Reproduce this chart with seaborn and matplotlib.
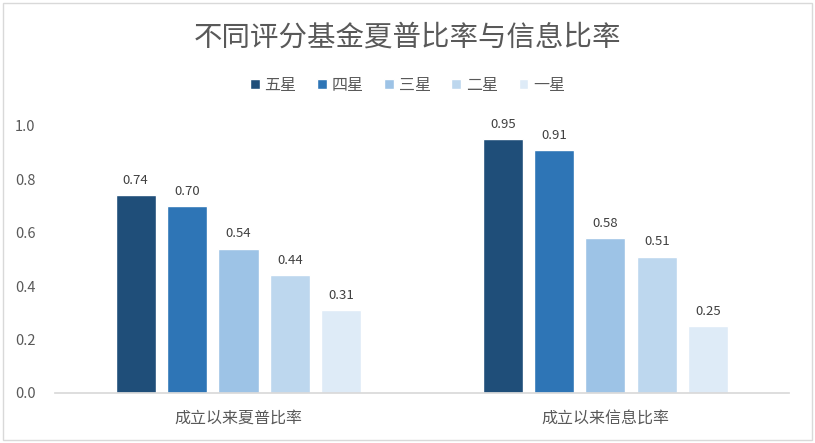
import matplotlib
matplotlib.use("Agg")
import matplotlib.pyplot as plt
from matplotlib.patches import Rectangle
import pandas as pd
import seaborn as sns

# data
categories = ["成立以来夏普比率", "成立以来信息比率"]
ratings = ["五星", "四星", "三星", "二星", "一星"]
sharpe = [0.74, 0.70, 0.54, 0.44, 0.31]
info = [0.95, 0.91, 0.58, 0.51, 0.25]
colors = ["#1F4E79", "#2E75B6", "#9DC3E6", "#BDD7EE", "#DEEBF7"]
yticks = [0.0, 0.2, 0.4, 0.6, 0.8, 1.0]

rows = []
for cat, vals in zip(categories, [sharpe, info]):
    for r, v in zip(ratings, vals):
        rows.append({"指标": cat, "评级": r, "值": v})
df = pd.DataFrame(rows)

sns.set_theme(style="white")
plt.rcParams["font.family"] = ["Noto Sans CJK SC", "DejaVu Sans"]

fig = plt.figure(figsize=(8.15, 4.43), dpi=100)
ax = fig.add_axes([0.0675, 0.113, 0.9005, 0.603])

sns.barplot(data=df, x="指标", y="值", hue="评级", hue_order=ratings,
            palette=colors, width=0.7, gap=0.22, saturation=1,
            order=categories, ax=ax, legend=True)

for cont in ax.containers:
    ax.bar_label(cont, fmt="%.2f", padding=6, fontsize=9.5, color="#404040",
                 clip_on=False)

ax.set_xlim(-0.5, 1.5)
ax.set_ylim(0, 1.0)
ax.set_yticks(yticks)
ax.set_yticklabels([f"{t:.1f}" for t in yticks])
ax.set_xlabel("")
ax.set_ylabel("")
ax.tick_params(axis="y", length=0, labelsize=10.5, colors="#595959", pad=14)
ax.tick_params(axis="x", length=0, labelsize=11.5, colors="#595959", pad=12)
for s in ["left", "right", "top"]:
    ax.spines[s].set_visible(False)
ax.spines["bottom"].set_color("#D9D9D9")
ax.grid(False)

handles, labels = ax.get_legend_handles_labels()
ax.legend_.remove()
fig.legend(handles, labels, loc="center", bbox_to_anchor=(0.5, 0.807), ncol=5,
           frameon=False, fontsize=11.5, handlelength=0.6, handleheight=0.6,
           handletextpad=0.3, columnspacing=1.3, labelcolor="#595959")

fig.text(0.5, 0.915, "不同评分基金夏普比率与信息比率", ha="center", va="center",
         fontsize=20.5, color="#595959")

fig.patches.append(Rectangle((0.004, 0.006), 0.992, 0.988, transform=fig.transFigure,
                             fill=False, edgecolor="#D9D9D9", linewidth=1))

fig.savefig("out.png", dpi=100, facecolor="white")
